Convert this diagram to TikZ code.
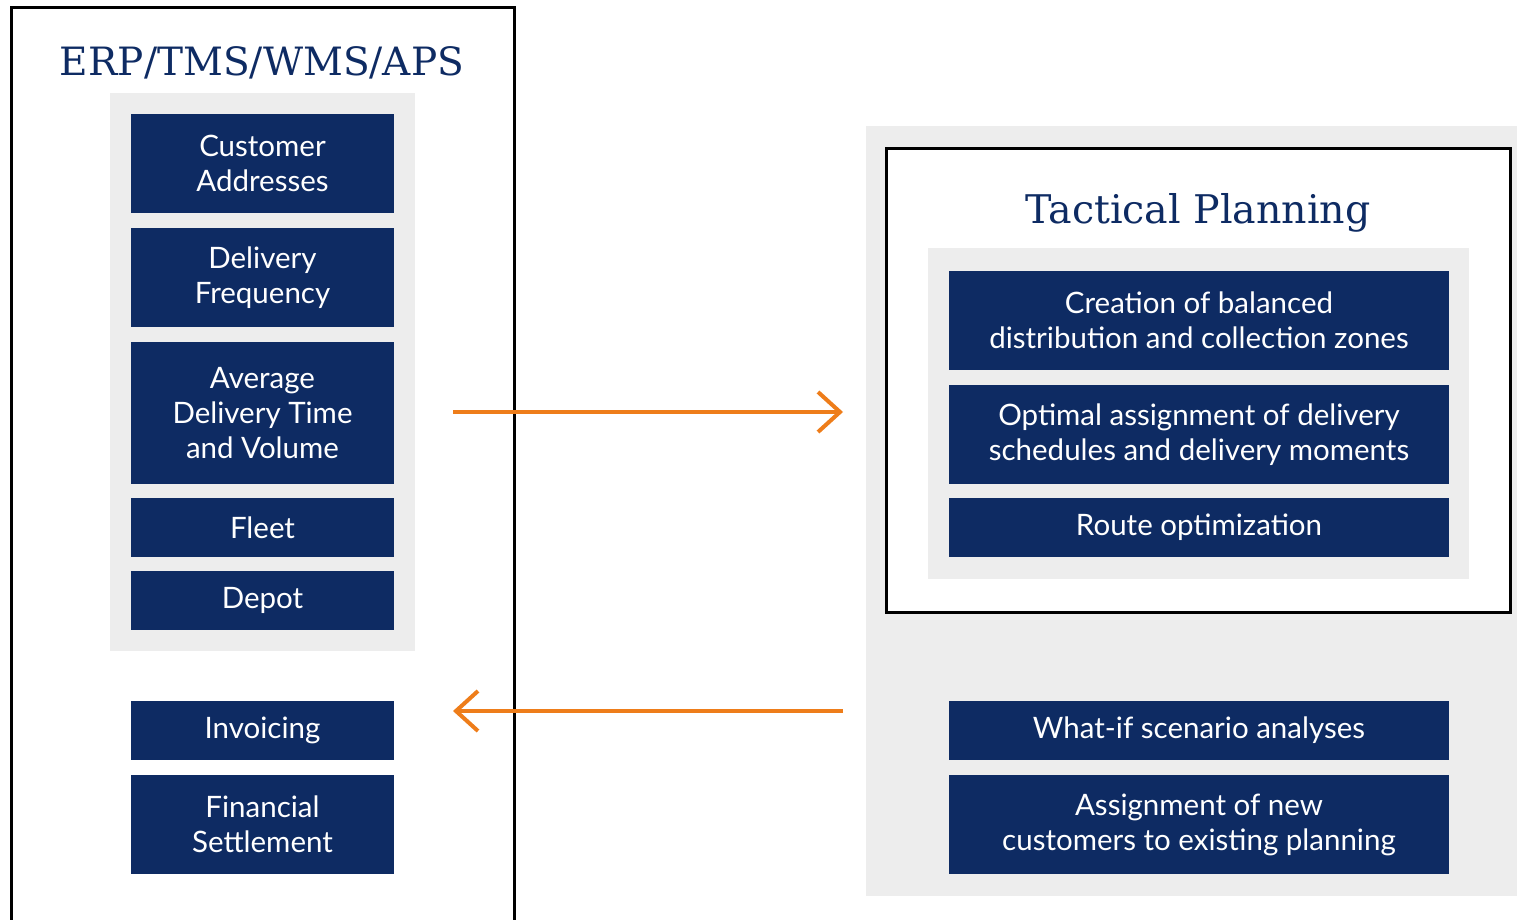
\documentclass[tikz,border=0pt]{standalone}
\usepackage{fontspec}
\setmainfont{Lato}
\newfontfamily\slabfont{DejaVu Serif}
\usetikzlibrary{arrows.meta}
\definecolor{navy}{HTML}{0E2B63}
\definecolor{panelgray}{HTML}{EDEDED}
\definecolor{orng}{HTML}{EE7D1A}
\tikzset{
  bluebox/.style={fill=navy, text=white, align=center, inner sep=0pt,
    font=\fontsize{29.5}{35}\selectfont},
  graypanel/.style={fill=panelgray, draw=none},
  frame/.style={draw=black, line width=3pt},
  titletext/.style={text=navy, inner sep=0pt},
  arr/.style={draw=orng, line width=4pt, -{Straight Barb[length=22pt,width=40pt]}}
}
\begin{document}
\begin{tikzpicture}[x=1pt,y=-1pt]
\useasboundingbox (0,0) rectangle (1517,920);
% left frame
\draw[frame] (11,925) -- (11,8) -- (514,8) -- (514,925);
\node[titletext, font=\slabfont\fontsize{39}{46}\selectfont] (erp) at (262,63) {ERP/TMS/WMS/APS};
\fill[panelgray] (110,93) rectangle (415,651);
\node[bluebox, minimum width=263pt, minimum height=99pt] (ca) at (262.5,163.5) {Customer\\Addresses};
\node[bluebox, minimum width=263pt, minimum height=99pt] (df) at (262.5,277.5) {Delivery\\Frequency};
\node[bluebox, minimum width=263pt, minimum height=142pt] (adt) at (262.5,413) {Average\\Delivery Time\\and Volume};
\node[bluebox, minimum width=263pt, minimum height=59pt] (fl) at (262.5,527.5) {Fleet};
\node[bluebox, minimum width=263pt, minimum height=59pt] (dp) at (262.5,600.5) {Depot};
\node[bluebox, minimum width=263pt, minimum height=59pt] (inv) at (262.5,730.5) {Invoicing};
\node[bluebox, minimum width=263pt, minimum height=99pt] (fs) at (262.5,824.5) {Financial\\Settlement};
% right panel
\fill[panelgray] (866,126) rectangle (1517,896);
\draw[frame, fill=white] (886,149) rectangle (1510,612);
\node[titletext, font=\slabfont\fontsize{39.5}{48}\selectfont] (tp) at (1198,213) {Tactical Planning};
\fill[panelgray] (928,248) rectangle (1469,579);
\node[bluebox, minimum width=500pt, minimum height=99pt] (cb) at (1199,320.5) {Creation of balanced\\distribution and collection zones};
\node[bluebox, minimum width=500pt, minimum height=99pt] (oa) at (1199,434.5) {Optimal assignment of delivery\\schedules and delivery moments};
\node[bluebox, minimum width=500pt, minimum height=59pt] (ro) at (1199,527.5) {Route optimization};
\node[bluebox, minimum width=500pt, minimum height=59pt] (wi) at (1199,730.5) {What-if scenario analyses};
\node[bluebox, minimum width=500pt, minimum height=99pt] (an) at (1199,824.5) {Assignment of new\\customers to existing planning};
% arrows
\coordinate (a1s) at (453,412);
\coordinate (a1e) at (843,412);
\coordinate (a2s) at (843,711);
\coordinate (a2e) at (453,711);
\draw[arr] (a1s) -- (a1e);
\draw[arr] (a2s) -- (a2e);
\end{tikzpicture}
\end{document}
